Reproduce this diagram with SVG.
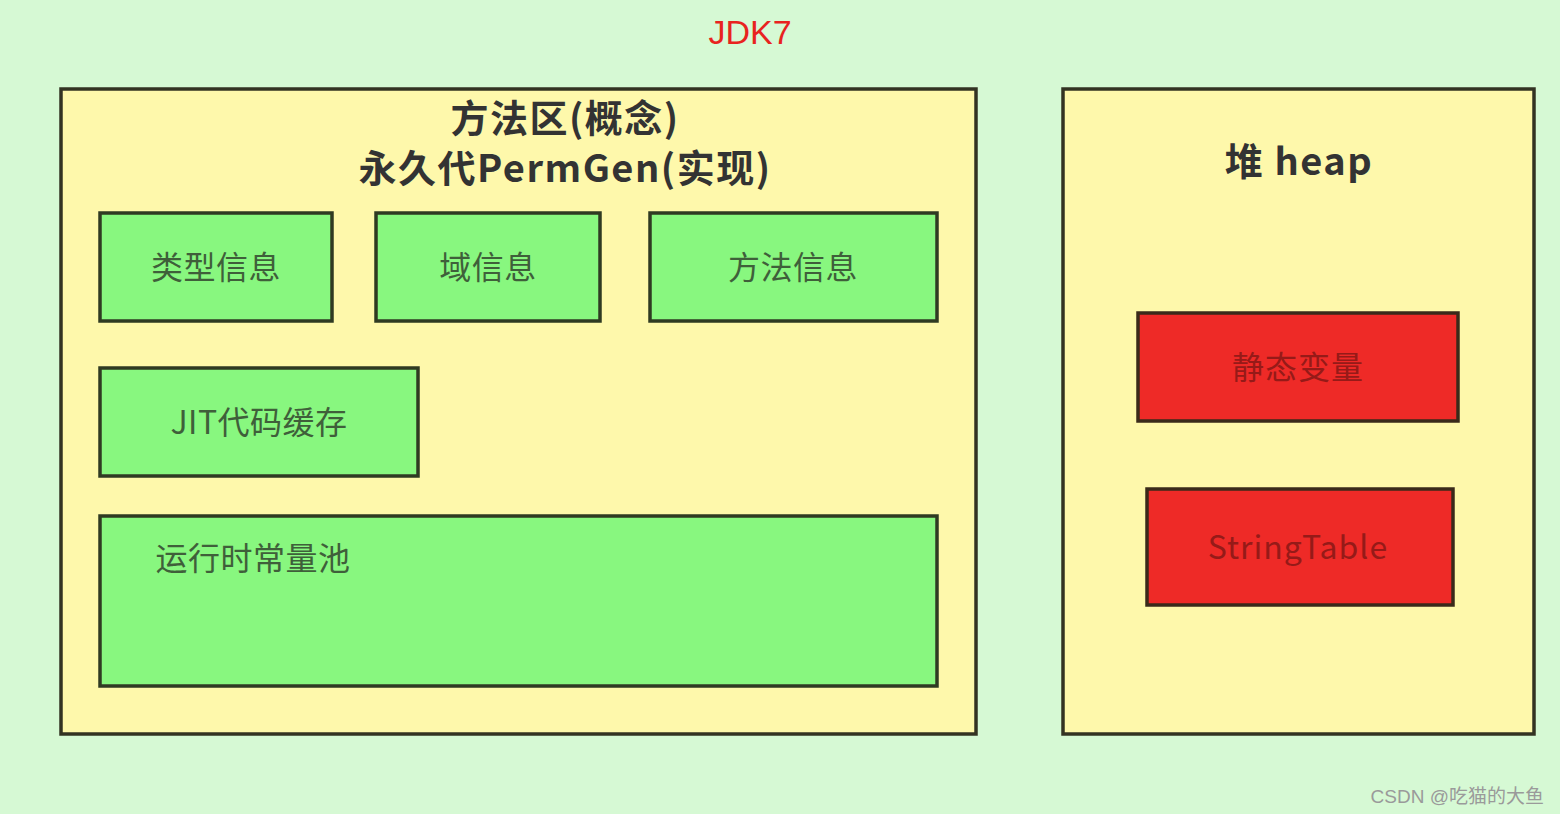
<svg xmlns="http://www.w3.org/2000/svg" width="1560" height="814" viewBox="0 0 1560 814">
<style>
.outer{fill:#fef8ab;stroke:#333322;stroke-width:3.5}
.g{fill:#88f77f;stroke:#2f3a22;stroke-width:3.5}
.r{fill:#ee2a27;stroke:#3a2a1a;stroke-width:3.5}
.t{font-family:"Noto Sans CJK SC","Noto Sans",sans-serif;font-size:32px;fill:#3f5f3a;text-anchor:middle;letter-spacing:0.5px}
.tr{font-family:"Noto Sans CJK SC","Noto Sans",sans-serif;font-size:32px;fill:#961a18;text-anchor:middle;letter-spacing:1px}
.h{font-family:"Noto Sans CJK SC","Noto Sans",sans-serif;font-size:38px;font-weight:bold;fill:#333333;text-anchor:middle;letter-spacing:1.5px}
</style>
<rect x="0" y="0" width="1560" height="814" fill="#d6f9d4"/>
<text x="750" y="44" font-family="Liberation Sans, Arial, sans-serif" font-size="34" fill="#e8231f" text-anchor="middle">JDK7</text>
<g id="methodArea">
<rect class="outer" x="61" y="89" width="915" height="645"/>
<text class="h" x="565" y="132">方法区(概念)</text>
<text class="h" x="565" y="182">永久代PermGen(实现)</text>
</g>
<g id="typeInfo"><rect class="g" x="100" y="213" width="232" height="108"/><text class="t" x="216" y="279">类型信息</text></g>
<g id="fieldInfo"><rect class="g" x="376" y="213" width="224" height="108"/><text class="t" x="488" y="279">域信息</text></g>
<g id="methodInfo"><rect class="g" x="650" y="213" width="287" height="108"/><text class="t" x="793" y="279">方法信息</text></g>
<g id="jit"><rect class="g" x="100" y="368" width="318" height="108"/><text class="t" x="259" y="434">JIT代码缓存</text></g>
<g id="runtimePool"><rect class="g" x="100" y="516" width="837" height="170"/><text class="t" x="253" y="570">运行时常量池</text></g>
<g id="heap">
<rect class="outer" x="1063" y="89" width="471" height="645"/>
<text class="h" x="1299" y="175">堆 heap</text>
</g>
<g id="staticVar"><rect class="r" x="1138" y="313" width="320" height="108"/><text class="tr" x="1298" y="379">静态变量</text></g>
<g id="stringTable"><rect class="r" x="1147" y="489" width="306" height="116"/><text class="tr" x="1298" y="559">StringTable</text></g>
<g id="connectors"></g>
<text x="1544" y="803" font-family="Liberation Sans, 'Noto Sans CJK SC', sans-serif" font-size="19" fill="#9a9a9a" text-anchor="end">CSDN @吃猫的大鱼</text>
</svg>
